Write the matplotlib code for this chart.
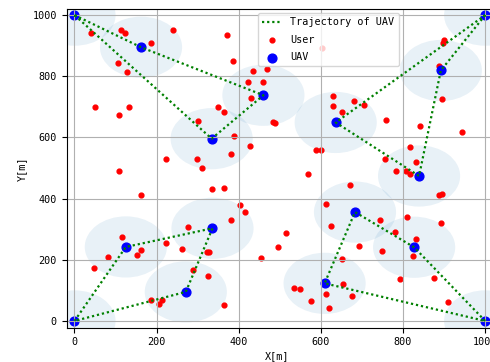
import numpy as np
import matplotlib.pyplot as plt
from matplotlib.patches import Circle

plt.rcParams['font.family'] = ['DejaVu Sans Mono']
plt.rcParams['font.size'] = 7.3

# positions of the users
user_x = [40, 113, 123, 239, 187, 371, 386, 105, 129, 434, 469, 423, 460, 430, 51, 108, 133,
          349, 365, 301, 483, 489, 389, 427, 382, 298, 223, 310, 108, 602, 900, 898, 888, 896,
          629, 629, 680, 706, 651, 759, 841, 944, 589, 600, 818, 831, 757, 782, 807, 818, 569,
          334, 365, 162, 403, 416, 380, 277, 116, 223, 163, 151, 262, 322, 328, 496, 82, 455,
          48, 288, 325, 186, 212, 206, 363, 672, 887, 895, 613, 745, 625, 810, 892, 514, 780,
          831, 692, 749, 824, 651, 793, 875, 653, 535, 548, 613, 676, 577, 910, 619]
user_y = [940, 951, 940, 951, 909, 935, 850, 842, 814, 817, 823, 780, 780, 729, 700, 672, 698,
          698, 684, 653, 649, 647, 606, 572, 546, 529, 529, 501, 489, 894, 918, 909, 833, 725,
          736, 703, 720, 705, 683, 656, 638, 619, 560, 560, 569, 520, 530, 491, 489, 479, 480,
          432, 436, 413, 379, 356, 331, 308, 275, 255, 232, 215, 235, 225, 225, 241, 209, 205,
          173, 168, 147, 70, 68, 55, 51, 443, 412, 415, 381, 330, 311, 340, 320, 289, 291,
          269, 244, 230, 212, 202, 137, 140, 120, 107, 104, 88, 83, 66, 61, 42]

# positions of the UAVs
uav_x = [0, 162, 460, 334, 1000, 892, 839, 636, 1000, 827, 683, 609, 0, 125, 336, 271]
uav_y = [1000, 895, 738, 596, 1000, 819, 474, 649, 0, 241, 356, 123, 0, 242, 303, 95]

# each UAV flies a closed loop
loops = [[0, 1, 2, 3, 0], [4, 5, 6, 7, 4], [8, 9, 10, 11, 8], [12, 13, 14, 15, 12]]
radius = 100

traj_x, traj_y = [], []
for lp in loops:
    traj_x += [uav_x[i] for i in lp] + [np.nan]
    traj_y += [uav_y[i] for i in lp] + [np.nan]

fig = plt.figure(figsize=(4.9, 3.62), dpi=100)
ax = fig.add_axes([0.1361, 0.0948, 0.870, 0.8803])

for x, y in zip(uav_x, uav_y):
    ax.add_patch(Circle((x, y), radius, color='C0', alpha=0.1, lw=0))

ax.plot(traj_x, traj_y, color='g', linestyle=(0, (1, 1.3)), lw=1.6, label='Trajectory of UAV')
ax.scatter(user_x, user_y, s=12, c='r', label='User')
ax.scatter(uav_x, uav_y, s=40, c='b', label='UAV')

ax.set_xlim(-19, 1019)
ax.set_ylim(-22, 1020)
ax.set_xticks(range(0, 1001, 200))
ax.set_yticks(range(0, 1001, 200))
ax.grid(True)
ax.set_xlabel('X[m]')
ax.set_ylabel('Y[m]')
ax.xaxis.set_label_coords((277.5 - 66.7) / 426.3, -0.075)

ax.legend(loc='upper left', bbox_to_anchor=(258 / 490, 1 - 13 / 362),
          bbox_transform=fig.transFigure, borderaxespad=0, labelspacing=0.75)

fig.savefig('out.png', dpi=100)
